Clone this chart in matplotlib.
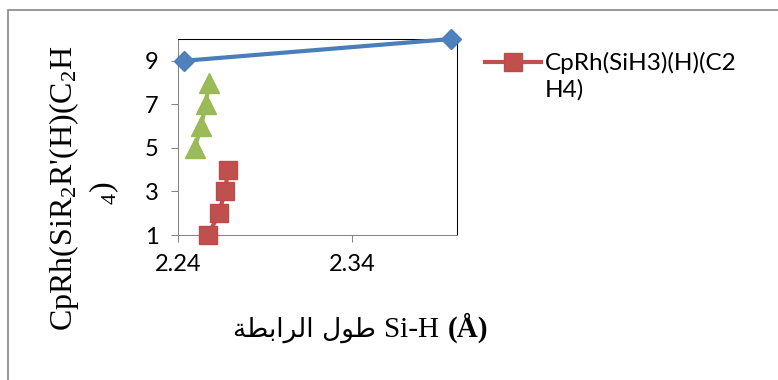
import matplotlib
matplotlib.use("Agg")
import matplotlib.pyplot as plt
from matplotlib.lines import Line2D
from matplotlib.patches import Rectangle
from matplotlib.offsetbox import TextArea, HPacker, AnchoredOffsetbox

# data
blue_x = [2.2436, 2.3967]
blue_y = [9, 10]
red_x = [2.2574, 2.2635, 2.2669, 2.2688]
red_y = [1, 2, 3, 4]
green_x = [2.2497, 2.2532, 2.2559, 2.2577]
green_y = [5, 6, 7, 8]

x_ticks = [2.24, 2.34]
y_ticks = [1, 3, 5, 7, 9]
legend_lines = ["CpRh(SiH3)(H)(C2", "H4)"]
ylabel_lines = [r"CpRh(SiR$_2$R'(H)(C$_2$H", r"$_4$)"]
# Arabic text in visual (presentation form) order: "طول الرابطة"
xlabel_ar = "\uFE94\uFEC4\uFE91\uFE8D\uFEAE\uFEDF\uFE8D \uFEDD\uFEEE\uFEC3"
xlabel_lat = "Si-H"
xlabel_unit = "(\u00C5)"

plt.rcParams["mathtext.fontset"] = "custom"
plt.rcParams["mathtext.rm"] = "Liberation Serif"
plt.rcParams["mathtext.it"] = "Liberation Serif:italic"

W, H = 778, 380
fig = plt.figure(figsize=(W / 100, H / 100), dpi=100)
ax = fig.add_axes([178 / W, 1 - 235 / H, (457 - 178) / W, (235 - 39) / H])

# series
ax.plot(blue_x, blue_y, color="#4A7EBB", lw=3, marker="D", ms=10,
        mfc="#4F81BD", mec="#4A7EBB", clip_on=False, zorder=3)
h_red, = ax.plot(red_x, red_y, color="#C0504D", lw=3, marker="s", ms=13.5,
                 mfc="#C0504D", mec="#BE4B48", clip_on=False, zorder=3)
ax.plot(green_x, green_y, color="#9BBB59", lw=3, marker="^", ms=15,
        mfc="#9BBB59", mec="#98B954", clip_on=False, zorder=3)

ax.set_xlim(2.24, 2.40)
ax.set_ylim(1, 10)
ax.set_xticks(x_ticks)
ax.set_xticklabels([f"{v:.2f}" for v in x_ticks])
ax.set_yticks(y_ticks)
ax.set_yticklabels([str(v) for v in y_ticks])
for lab in ax.get_xticklabels() + ax.get_yticklabels():
    lab.set_fontfamily("Lato")
    lab.set_fontsize(17)
ax.tick_params(direction="out", length=5, width=0.75, color="#868686", pad=9)

for s in ["top", "right"]:
    ax.spines[s].set_color("black")
    ax.spines[s].set_linewidth(0.75)
for s in ["left", "bottom"]:
    ax.spines[s].set_color("#868686")
    ax.spines[s].set_linewidth(0.75)

# y label, wrapped over two lines like the original
fig.text(64 / W, 1 - 188 / H, ylabel_lines[0], rotation=90, ha="center",
         va="center", family="Liberation Serif", fontsize=23)
fig.text(104 / W, 1 - 193 / H, ylabel_lines[1], rotation=90, ha="center",
         va="center", family="Liberation Serif", fontsize=23)

# x label: Arabic + Latin + bold unit
ta1 = TextArea(xlabel_ar, textprops=dict(family="DejaVu Sans", fontsize=19))
ta2 = TextArea(xlabel_lat, textprops=dict(family="Liberation Serif", fontsize=21))
ta3 = TextArea(xlabel_unit, textprops=dict(family="Liberation Serif", fontsize=21,
                                           weight="bold"))
box = HPacker(children=[ta1, ta2, ta3], align="baseline", pad=0, sep=6)
anc = AnchoredOffsetbox(loc="lower left", child=box, pad=0, borderpad=0,
                        frameon=False, bbox_to_anchor=(233 / W, 1 - 343 / H),
                        bbox_transform=fig.transFigure)
fig.add_artist(anc)

# legend (only the red series shows, name wrapped)
blank = Line2D([], [], linestyle="", marker="")
fig.legend([h_red, blank], legend_lines, loc="upper left",
           bbox_to_anchor=(485 / W, 1 - 52 / H), frameon=False,
           handlelength=2.3, handletextpad=0.15, labelspacing=0.2,
           borderpad=0, borderaxespad=0,
           prop={"family": "Lato", "size": 17.5})

# chart area border
fig.add_artist(Rectangle((8 / W, -0.2), 1.5, 1.2 - 9.5 / H, transform=fig.transFigure,
                         fill=False, edgecolor="#868686", lw=1.2))

fig.savefig("out.png", dpi=100)
